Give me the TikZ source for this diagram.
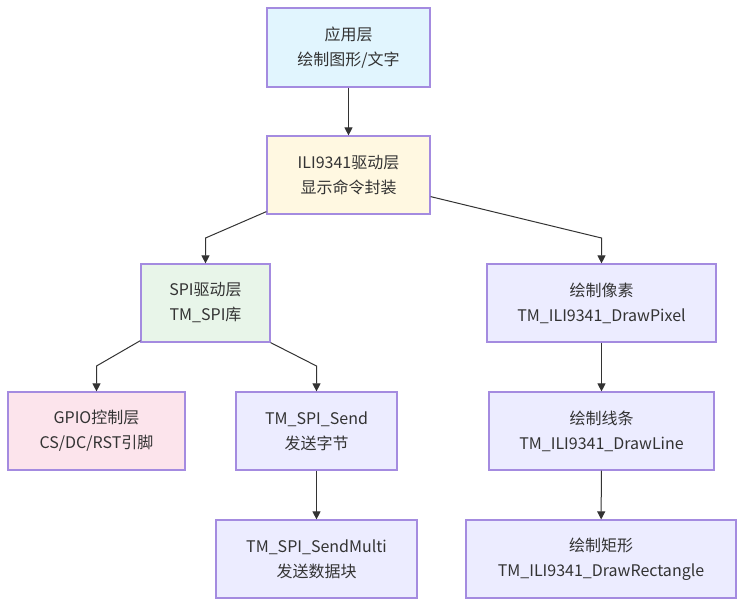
\documentclass[tikz,border=0pt]{standalone}
\usepackage{fontspec}
\setmainfont{Noto Sans CJK SC}
\usetikzlibrary{arrows.meta}
\definecolor{bordc}{HTML}{A48BE0}
\definecolor{txtc}{HTML}{333333}
\definecolor{fA}{HTML}{E1F5FE}
\definecolor{fB}{HTML}{FFF8E1}
\definecolor{fC}{HTML}{E8F5E9}
\definecolor{fE}{HTML}{FCE4EC}
\definecolor{fX}{HTML}{ECECFF}
\tikzset{
  box/.style={draw=bordc, line width=1.2pt, fill=fX, text=txtc, align=center,
    font=\fontsize{16}{25}\selectfont, inner sep=0pt, minimum height=78pt},
  arr/.style={draw=txtc, line width=1pt, -{Triangle[length=8pt,width=8pt]}}
}
\begin{document}
\begin{tikzpicture}[x=1pt,y=-1pt]
\useasboundingbox (0,0) rectangle (744,606);
\node[box, fill=fA, minimum width=163pt, minimum height=79pt] (A) at (348.5,47.5) {应用层\\绘制图形/文字};
\node[box, fill=fB, minimum width=163pt] (B) at (348.5,175) {ILI9341驱动层\\显示命令封装};
\node[box, fill=fC, minimum width=129pt] (C) at (205.5,303) {SPI驱动层\\TM\_SPI库};
\node[box, minimum width=229pt] (D) at (601.5,303) {绘制像素\\TM\_ILI9341\_DrawPixel};
\node[box, fill=fE, minimum width=177pt] (E) at (96.5,431) {GPIO控制层\\CS/DC/RST引脚};
\node[box, minimum width=161pt] (F) at (316.5,431) {TM\_SPI\_Send\\发送字节};
\node[box, minimum width=225pt] (G) at (601.5,431) {绘制线条\\TM\_ILI9341\_DrawLine};
\node[box, minimum width=201pt] (H) at (316.5,559) {TM\_SPI\_SendMulti\\发送数据块};
\node[box, minimum width=270pt] (I) at (601,559) {绘制矩形\\TM\_ILI9341\_DrawRectangle};
\coordinate (bc) at (205.5,238);
\coordinate (bd) at (601.5,238);
\coordinate (ce) at (96.5,366);
\coordinate (cf) at (316.5,366);
\draw[arr] (A) -- (B);
\draw[arr] ([yshift=3pt]B.south west) -- (bc) -- (C.north);
\draw[arr] ([yshift=18pt]B.south east) -- (bd) -- (D.north);
\draw[arr] ([yshift=2pt]C.south west) -- (ce) -- (E.north);
\draw[arr] (C.south east) -- (cf) -- (F.north);
\draw[arr] (F) -- (H);
\draw[arr] (D) -- (G);
\draw[arr] (G) -- (I);
\end{tikzpicture}
\end{document}
